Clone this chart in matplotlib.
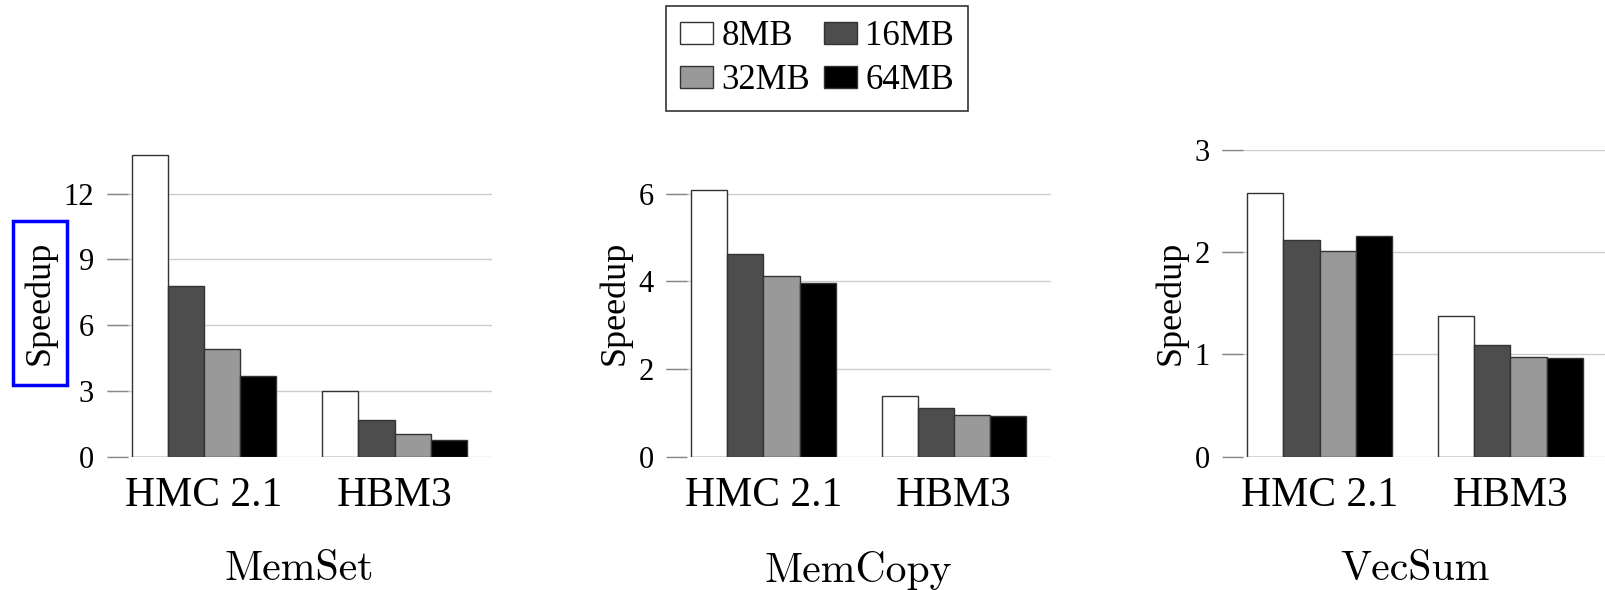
import matplotlib
matplotlib.use('Agg')
import matplotlib.pyplot as plt
import numpy as np
from matplotlib.patches import Rectangle

# data
groups = ['HMC 2.1', 'HBM3']
sizes = ['8MB', '16MB', '32MB', '64MB']
memset = [[13.78, 7.78, 4.90, 3.69], [2.98, 1.67, 1.03, 0.76]]
memcopy = [[6.08, 4.63, 4.13, 3.96], [1.38, 1.11, 0.96, 0.93]]
vecsum = [[2.58, 2.12, 2.01, 2.16], [1.38, 1.09, 0.97, 0.96]]
titles = ['MemSet', 'MemCopy', 'VecSum']
yticks = [[0, 3, 6, 9, 12], [0, 2, 4, 6], [0, 1, 2, 3]]
ymax = [14, 7, 3]

colors = ['#ffffff', '#4d4d4d', '#999999', '#000000']
serif = ['Liberation Serif', 'DejaVu Serif']

plt.rcParams['font.family'] = serif

fig = plt.figure(figsize=(16.05, 5.9), dpi=100)
lefts = [0.0665, 0.415, 0.7616]
w = 0.19
x = np.arange(len(groups))
axes = []
for k, data in enumerate([memset, memcopy, vecsum]):
    ax = fig.add_axes([lefts[k], 0.226, 0.240, 0.52])
    vals = np.array(data)
    for i in range(len(sizes)):
        ax.bar(x + (i - 1.5) * w, vals[:, i], width=w, color=colors[i],
               edgecolor='#333333', linewidth=1.0, label=sizes[i], zorder=3)
    ax.set_xlim(-0.51, 1.51)
    ax.set_ylim(0, ymax[k])
    ax.set_yticks(yticks[k])
    ax.set_xticks(x)
    ax.set_xticklabels(groups, fontsize=30)
    ax.tick_params(axis='x', length=0, pad=14)
    ax.tick_params(axis='y', direction='in', length=15, width=1, color='#888888',
                   labelsize=22, pad=9)
    ax.yaxis.grid(True, color='#cccccc', linewidth=1, zorder=0)
    for s in ax.spines.values():
        s.set_visible(False)
    ax.set_ylabel('Speedup', fontsize=26, labelpad=5)
    ax.set_xlabel(titles[k], fontsize=30, family='cmr10', labelpad=26)
    axes.append(ax)

# row-wise legend order: 8MB 16MB / 32MB 64MB
h, l = axes[0].get_legend_handles_labels()
order = [0, 2, 1, 3]
leg = fig.legend([h[i] for i in order], [l[i] for i in order], ncol=2,
                 loc='upper center', bbox_to_anchor=(0.509, 0.989), borderaxespad=0,
                 fontsize=25, frameon=True, fancybox=False, edgecolor='black',
                 handlelength=0.95, handleheight=0.6, handletextpad=0.25,
                 columnspacing=0.4, labelspacing=0.3, borderpad=0.4)
leg.get_frame().set_linewidth(1.2)

# blue highlight box around first y label
fig.canvas.draw()
bb = axes[0].yaxis.label.get_window_extent().transformed(fig.transFigure.inverted())
px = 10 / 1605
py = 20 / 590
fig.patches.append(Rectangle((bb.x0 - px, bb.y0 - py), bb.width + 2 * px, bb.height + 2 * py,
                             transform=fig.transFigure, fill=False,
                             edgecolor='#0000ff', linewidth=2.5))

fig.savefig('out.png', dpi=100)
